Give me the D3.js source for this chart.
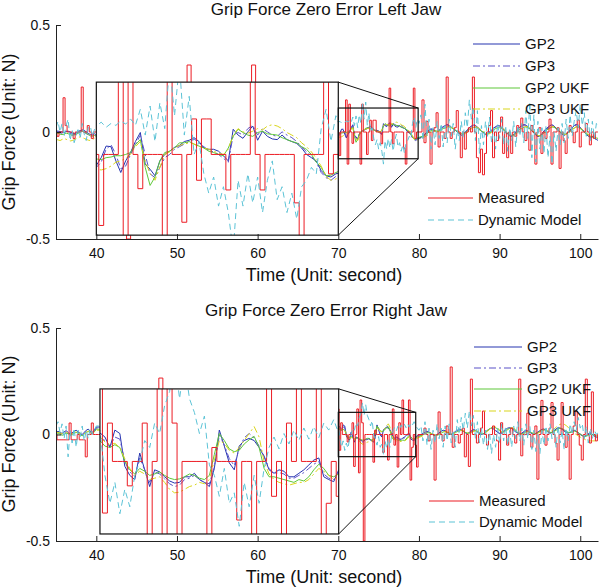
<!DOCTYPE html>
<html><head><meta charset="utf-8">
<script src="https://cdn.jsdelivr.net/npm/d3@7"></script>
<style>
body{margin:0;background:#fff}
svg{display:block}
text{font-family:"Liberation Sans",Arial,Helvetica,sans-serif;fill:#111}
</style>
</head><body>
<svg id="c" width="600" height="588"></svg>
<script>
// ---------------- DATA ----------------
const seriesNames = ["GP2", "GP3", "GP2 UKF", "GP3 UKF", "Measured", "Dynamic Model"];
const chartTitles = ["Grip Force Zero Error Left Jaw", "Grip Force Zero Error Right Jaw"];
const xLabel = "Time (Unit: second)";
const yLabel = "Grip Force (Unit: N)";
const xTicks = [40, 50, 60, 70, 80, 90, 100];
const yTicks = [-0.5, 0, 0.5];
const xDomain = [35, 102.2];
const yDomain = [-0.5, 0.5];

// sample times (seconds): 35–40, 40.5–69.5 (measured only), 70–80 (zoomed), 80.25–102.25
const timeA = d3.range(21).map(i => 35 + i * 0.25);
const timeH = d3.range(59).map(i => 40.5 + i * 0.5);
const timeB = d3.range(51).map(i => 70 + i * 0.2);
const timeC = d3.range(89).map(i => 80.25 + i * 0.25);

// ---- Left jaw ----
const leftMeasured = [
  // 35–40
  0,-0.02,0,0,0.16,0.03,0,0,0,-0.03,0,0,0,0.21,0,0,0.03,0,-0.03,0,0,
  // 40.5–69.5
  0,0,0,0,0,0,0,-0.5,0,0, 0,0,0,0,0,0,0,0,0,0, 0,0,0.313,0,0,0,0,0,0,0,
  0,0,0,0,0,0,0,0,0.313,0, 0,0,0,0,0,0,0,0,0,0, 0,0,0,0,0,0,0,0,0,
  // 70–80
  0,-0.11,0,0,0,0.15,-0.15,0.13,0,-0.053, 0,0,0,0,-0.15,0.13,0,0,-0.105,0,
  0.055,-0.04,0.055,0.055,0,0,0,-0.055,0,0, 0,0,0.205,0,-0.055,0,0,0,0,0,
  0,-0.075,-0.15,0,0,0,0,0.205,-0.03,0, 0,
  // 80.25–102.25
  0,0.15,-0.05,0.05,0,-0.15,0,0.02,0.09,-0.07, 0,0,-0.03,0.257,0,-0.03,0,0.02,0.1,0,
  -0.12,0,-0.08,0,0.02,0,0.257,0,-0.12,-0.19, -0.08,-0.2,-0.1,0,0.03,0.1,-0.12,0,-0.04,0,
  0.07,-0.1,0,-0.12,0,-0.1,0,-0.02,0.03,0, 0.065,0,-0.04,0,-0.085,0.03,0,-0.15,0,0.02,
  -0.1,0,-0.03,0,0.06,-0.15,0,0,0.02,-0.17, 0,-0.04,-0.1,0,0.03,0,-0.05,0,0.056,-0.07,
  0,0,0.04,0,-0.06,0,-0.03,0,0
];
const leftDynamic = [
  0.02,0.05,0.0,0.04,-0.02,0.03,0.06,-0.04,0.01,-0.05,-0.02,0.02,-0.03,0.04,-0.01,-0.04,0.02,0.03,-0.02,0.01,0.03,
  0.044,0.05,0.042,0.048,0.045,0.052,0.047,0.055,0.045,0.07, 0.03,0.075,0.02,0.08,0.04,0.14,0.06,0.14,0.03,0.09,
  0.0,0.02,-0.03,-0.06,-0.035,-0.08,-0.05,-0.09,-0.15,-0.04, -0.08,-0.03,-0.075,-0.035,-0.09,-0.04,-0.01,-0.07,-0.05,-0.09,
  -0.06,-0.1,-0.05,-0.04,-0.02,-0.03,0.04,0.07,0.02,0.06, 0.04,
  0.08,-0.04,0.13,-0.02,0.06,-0.08,0.02,-0.06,0.05,-0.03, 0.04,-0.07,0.03,-0.05,0.06,-0.02,0.04,-0.08,0.01,-0.04,
  0.05,-0.03,0.09,0.02,0.15,0.06,0.12,-0.04,0.1,-0.1, 0.03,-0.06,0.05,-0.02,0.07,-0.05,0.02,-0.08,0.04,-0.03,
  0.06,-0.06,0.03,-0.09,0.02,-0.04,0.05,-0.07,0.03,-0.02, 0.04,-0.05,0.1,-0.03,0.14,-0.12,0.08,-0.14,0.05,-0.08,
  0.02,-0.1,0.03,-0.12,-0.02,-0.15,0.0,-0.09,0.02,-0.06, 0.04,-0.05,0.06,-0.03,0.08,-0.02,0.05,0.1,0.02,0.13,
  0.03,0.09,-0.02,0.06,-0.04,0.05,-0.03,0.04,0.02
];
const leftGP2 = [
  0.005,0.004,0.002,0.0,-0.003,0.002,0.004,0.0,-0.005,-0.008,-0.004,0.0,0.006,0.01,0.008,0.0,-0.006,-0.012,-0.015,-0.008,-0.017,
  -0.017,-0.005,0.013,0.012,-0.01,-0.028,-0.01,0.003,0.02,0.034, -0.015,-0.023,-0.033,-0.01,0.0,0.005,0.011,0.014,0.02,0.022,
  0.026,0.02,0.01,0.008,0.008,0.005,-0.002,-0.01,0.039,0.03, 0.025,0.035,0.044,0.022,0.036,0.028,0.024,0.023,0.03,0.023,
  0.02,0.017,0.01,0.0,-0.005,-0.01,-0.025,-0.033,-0.035,-0.03, -0.028,
  -0.025,-0.02,-0.01,0.0,0.01,0.015,0.012,0.005,0.0,0.008, 0.018,0.025,0.03,0.035,0.03,0.022,0.015,0.008,0.0,-0.008,
  -0.015,-0.01,0.0,0.01,0.02,0.028,0.032,0.03,0.022,0.012, 0.005,-0.005,-0.012,-0.008,0.0,0.01,0.018,0.025,0.03,0.028,
  0.02,0.01,0.0,-0.01,-0.018,-0.02,-0.012,0.0,0.012,0.022, 0.03,0.035,0.032,0.025,0.015,0.005,-0.005,-0.015,-0.022,-0.018,
  -0.008,0.005,0.015,0.022,0.03,0.034,0.028,0.018,0.008,-0.002, -0.01,-0.015,-0.01,0.0,0.01,0.02,0.03,0.036,0.03,0.02,
  0.01,0.0,-0.01,-0.02,-0.025,-0.02,-0.03,-0.035,-0.04
];
const leftGP3 = [
  0.0,0.002,-0.004,-0.006,-0.002,0.004,0.0,-0.006,-0.01,-0.012,-0.006,0.002,0.008,0.004,0.0,-0.008,-0.012,-0.016,-0.01,-0.012,-0.02,
  -0.02,-0.012,0.008,0.015,0.0,-0.022,-0.018,0.0,0.015,0.03, 0.0,-0.03,-0.036,-0.02,-0.005,0.0,0.008,0.012,0.016,0.02,
  0.024,0.018,0.012,0.006,0.004,0.0,-0.006,-0.012,0.03,0.034, 0.03,0.04,0.045,0.03,0.04,0.035,0.03,0.028,0.035,0.03,
  0.026,0.02,0.012,0.004,-0.002,-0.012,-0.028,-0.036,-0.04,-0.034, -0.03,
  -0.03,-0.024,-0.015,-0.004,0.006,0.012,0.01,0.004,-0.002,0.004, 0.014,0.022,0.028,0.032,0.03,0.024,0.016,0.01,0.002,-0.006,
  -0.012,-0.012,-0.004,0.006,0.016,0.024,0.03,0.03,0.024,0.014, 0.006,-0.002,-0.01,-0.01,-0.004,0.006,0.014,0.022,0.028,0.028,
  0.022,0.012,0.002,-0.008,-0.016,-0.02,-0.014,-0.004,0.008,0.018, 0.026,0.032,0.032,0.026,0.018,0.008,-0.002,-0.012,-0.02,-0.02,
  -0.012,0.0,0.01,0.018,0.026,0.03,0.028,0.02,0.01,0.0, -0.008,-0.014,-0.012,-0.004,0.006,0.016,0.026,0.032,0.03,0.022,
  0.012,0.002,-0.008,-0.018,-0.024,-0.022,-0.028,-0.034,-0.038
];
const leftGP2UKF = [
  -0.008,-0.006,-0.01,-0.012,-0.01,-0.005,-0.008,-0.012,-0.016,-0.014,-0.01,-0.006,0.0,0.004,0.0,-0.006,-0.012,-0.018,-0.02,-0.016,-0.02,
  -0.007,-0.008,-0.005,-0.004,-0.002,-0.002,0.0,0.003,0.015,0.023, -0.02,-0.048,-0.035,-0.01,0.003,0.005,0.01,0.018,0.018,0.02,
  0.016,0.013,0.01,0.005,0.003,0.0,-0.002,0.01,0.028,0.039, 0.034,0.03,0.028,0.034,0.036,0.032,0.031,0.03,0.026,0.023,
  0.02,0.018,0.012,0.008,0.0,-0.012,-0.02,-0.033,-0.032,-0.028, -0.025,
  -0.022,-0.02,-0.015,-0.008,0.0,0.006,0.008,0.006,0.004,0.006, 0.01,0.016,0.02,0.024,0.024,0.02,0.014,0.008,0.002,-0.004,
  -0.008,-0.008,-0.004,0.004,0.012,0.018,0.022,0.022,0.018,0.01, 0.004,-0.002,-0.008,-0.01,-0.006,0.002,0.01,0.016,0.02,0.02,
  0.016,0.01,0.002,-0.006,-0.012,-0.016,-0.014,-0.006,0.004,0.012, 0.018,0.022,0.024,0.02,0.014,0.006,-0.002,-0.01,-0.016,-0.018,
  -0.012,-0.004,0.006,0.014,0.02,0.024,0.022,0.016,0.008,0.0, -0.006,-0.01,-0.01,-0.004,0.004,0.012,0.018,0.024,0.022,0.016,
  0.008,0.0,-0.008,-0.014,-0.02,-0.024,-0.026,-0.028,-0.03
];
const leftGP3UKF = [
  -0.035,-0.037,-0.04,-0.035,-0.03,-0.034,-0.038,-0.042,-0.04,-0.036,-0.032,-0.026,-0.022,-0.026,-0.03,-0.034,-0.038,-0.04,-0.036,-0.03,-0.025,
  -0.023,-0.024,-0.022,-0.018,-0.012,-0.01,-0.006,0.0,0.012,0.02, -0.01,-0.03,-0.04,-0.02,0.0,0.004,0.01,0.014,0.016,0.018,
  0.016,0.012,0.01,0.008,0.005,0.002,0.0,0.008,0.03,0.04, 0.035,0.033,0.036,0.04,0.038,0.044,0.046,0.044,0.04,0.034,
  0.03,0.026,0.018,0.012,0.004,-0.006,-0.018,-0.034,-0.04,-0.038, -0.034,
  -0.028,-0.026,-0.022,-0.016,-0.008,0.0,0.004,0.004,0.002,0.002, 0.006,0.012,0.018,0.022,0.024,0.022,0.018,0.012,0.006,0.0,
  -0.006,-0.01,-0.008,-0.002,0.006,0.014,0.02,0.024,0.022,0.016, 0.008,0.002,-0.004,-0.008,-0.008,-0.002,0.006,0.014,0.02,0.022,
  0.02,0.014,0.006,-0.002,-0.01,-0.016,-0.018,-0.012,-0.002,0.008, 0.016,0.022,0.026,0.024,0.018,0.01,0.002,-0.008,-0.016,-0.02,
  -0.018,-0.01,0.0,0.01,0.018,0.024,0.026,0.022,0.014,0.004, -0.004,-0.01,-0.012,-0.008,0.0,0.01,0.018,0.024,0.026,0.02,
  0.012,0.004,-0.004,-0.012,-0.018,-0.024,-0.028,-0.03,-0.034
];

// ---- Right jaw ----
const rightMeasured = [
  0,-0.025,-0.025,-0.025,-0.025,-0.025,-0.025,0.054,-0.025,-0.025,-0.025,0,-0.025,-0.025,-0.025,-0.105,0,0,0.054,0,0,
  0,0,0,0,0,0,0,0,0,0, 0,0,0,0,0,0.265,0,0,0,0, 0,0,0,0,0,0,0,0,0,0,
  0,0,0,0,0,0,0,0,0,0, 0,0,0,0,0,0,0,0,0,0, 0,0,0,0,0,0,0,0,0,
  0.12,-0.074,0.055,0,0,0,-0.035,0,0,0.055, -0.15,0,0.12,-0.18,0.162,0.055,-0.5,0,0,0,
  0,0,-0.13,0.02,0,0,0,0,-0.084,0, 0,-0.12,0,0,0.12,-0.05,0,-0.153,0.055,0,
  0.162,0,0,0,0.162,-0.214,-0.06,0,-0.05,-0.153, 0,
  0,0,0.03,0,-0.03,0,0,-0.214,0,0.106, 0,-0.03,0,0.04,0,0.317,-0.06,0,0,-0.04,
  0,0.03,-0.105,0,-0.15,0.26,0,0,-0.04,0, 0.03,0.11,0,-0.05,0,0,0.04,0,-0.03,-0.12,
  0.055,0,0,-0.05,0,0.03,0,-0.04,0,0.26, -0.1,0,0,0.1,0,-0.06,0,0.04,-0.21,0,
  0.16,0,-0.05,0,0.03,0.15,0,-0.04,-0.12,0, 0.15,0,-0.06,0,-0.21,0,0.04,0.11,0,-0.05,
  -0.12,0,0.26,0,-0.04,0.2,0,-0.03,0
];
const rightDynamic = [
  0.04,0.06,0.01,0.05,-0.02,0.04,-0.105,0.02,-0.04,0.03,-0.06,0.02,-0.01,0.04,-0.03,0.02,-0.02,0.03,0.0,0.02,0.04,
  0.045,-0.02,-0.06,-0.03,-0.075,-0.04,-0.065,-0.02,0.0,0.03, 0.02,0.055,0.04,0.08,0.1,0.15,0.09,0.14,0.09,0.07,
  0.04,0.065,-0.005,-0.02,-0.05,-0.01,-0.06,-0.045,-0.093,-0.03, -0.065,-0.02,-0.06,-0.01,0.02,0.035,0.018,0.04,0.025,0.045,
  0.03,0.048,0.032,0.05,0.034,0.055,0.045,0.06,0.04,0.03, 0.02,
  0.04,-0.03,0.06,-0.05,0.03,-0.07,0.02,-0.04,0.05,-0.02, 0.03,-0.06,0.04,-0.03,0.05,-0.04,0.02,-0.06,0.07,0.0,
  0.08,0.02,0.1,0.03,0.11,0.04,0.09,-0.02,0.06,-0.04, 0.03,-0.05,0.02,-0.07,0.01,-0.09,0.0,-0.06,0.03,-0.04,
  0.05,-0.03,0.04,-0.05,0.02,-0.06,0.04,-0.02,0.06,-0.03, 0.03,-0.05,0.05,-0.02,0.04,-0.07,0.02,-0.08,0.0,-0.09,
  0.02,-0.05,0.04,-0.03,0.05,-0.02,0.03,-0.06,0.04,-0.04, 0.02,-0.07,0.03,-0.03,0.05,0.0,0.06,0.02,0.08,0.03,
  0.05,-0.02,0.04,-0.04,0.03,-0.02,0.02,0.0,0.01
];
const rightGP2 = [
  0.01,0.015,0.01,0.005,0.012,0.018,0.01,0.0,0.008,0.015,0.02,0.012,0.005,0.0,0.01,0.02,0.025,0.015,0.01,0.02,0.035,
  0.041,0.035,0.02,0.045,0.04,-0.007,-0.02,-0.026,0.012,-0.012, -0.036,-0.012,-0.015,-0.022,-0.028,-0.031,-0.03,-0.022,-0.022,-0.017,
  -0.026,-0.03,-0.036,-0.01,0.045,0.022,-0.002,-0.012,0.022,0.03, 0.033,0.03,0.02,0.007,-0.012,-0.017,-0.012,-0.014,-0.022,-0.022,
  -0.017,-0.012,-0.005,0.002,0.005,-0.022,-0.026,-0.029,-0.012,-0.005, 0.0,
  0.0,0.005,0.01,0.015,0.012,0.006,0.0,-0.005,0.0,0.008, 0.015,0.02,0.018,0.01,0.004,0.0,0.006,0.014,0.02,0.025,
  0.022,0.015,0.008,0.004,0.01,0.018,0.024,0.02,0.012,0.005, 0.0,0.004,0.012,0.02,0.026,0.03,0.026,0.018,0.01,0.004,
  0.008,0.016,0.024,0.03,0.032,0.028,0.02,0.012,0.006,0.002, 0.006,0.014,0.02,0.016,0.01,0.004,0.0,0.005,0.012,0.018,
  0.024,0.026,0.02,0.012,0.006,0.01,0.018,0.026,0.032,0.03, 0.024,0.016,0.01,0.006,0.01,0.016,0.02,0.015,0.008,0.0,
  -0.006,-0.01,-0.004,0.004,0.008,0.0,-0.008,-0.012,-0.016
];
const rightGP3 = [
  0.005,0.01,0.006,0.0,0.006,0.012,0.008,-0.002,0.004,0.01,0.015,0.01,0.002,-0.004,0.006,0.015,0.02,0.012,0.006,0.015,0.03,
  0.035,0.03,0.022,0.035,0.032,0.0,-0.015,-0.022,0.005,-0.012, -0.03,-0.015,-0.018,-0.025,-0.032,-0.036,-0.034,-0.026,-0.024,-0.02,
  -0.026,-0.03,-0.032,-0.008,0.038,0.024,0.004,-0.006,0.018,0.034, 0.04,0.034,0.022,0.008,-0.01,-0.018,-0.016,-0.018,-0.024,-0.024,
  -0.02,-0.016,-0.01,-0.004,0.0,-0.018,-0.024,-0.026,-0.014,-0.008, -0.004,
  -0.004,0.002,0.008,0.012,0.01,0.004,-0.002,-0.006,-0.002,0.004, 0.012,0.018,0.016,0.01,0.004,0.0,0.004,0.01,0.016,0.022,
  0.02,0.014,0.008,0.004,0.008,0.014,0.02,0.018,0.012,0.006, 0.0,0.002,0.01,0.018,0.024,0.028,0.026,0.02,0.012,0.006,
  0.006,0.014,0.022,0.028,0.03,0.028,0.022,0.014,0.008,0.004, 0.004,0.01,0.016,0.016,0.012,0.006,0.002,0.004,0.01,0.016,
  0.022,0.024,0.02,0.014,0.008,0.01,0.016,0.024,0.03,0.03, 0.026,0.018,0.012,0.008,0.01,0.014,0.018,0.014,0.008,0.002,
  -0.004,-0.008,-0.006,0.0,0.004,0.0,-0.006,-0.01,-0.014
];
const rightGP2UKF = [
  0.0,0.004,0.002,-0.004,0.0,0.006,0.004,-0.004,0.0,0.006,0.01,0.006,0.0,-0.006,0.002,0.01,0.014,0.008,0.004,0.012,0.025,
  0.03,0.022,0.02,0.024,0.02,0.0,-0.012,-0.018,-0.01,-0.014, -0.02,-0.018,-0.015,-0.02,-0.024,-0.026,-0.025,-0.022,-0.018,-0.02,
  -0.024,-0.026,-0.02,0.01,0.04,0.03,0.018,0.014,0.016,0.025, 0.031,0.036,0.02,-0.01,-0.022,-0.022,-0.024,-0.026,-0.028,-0.03,
  -0.026,-0.028,-0.022,-0.012,-0.004,-0.01,-0.02,-0.022,-0.018,-0.012, -0.01,
  -0.006,-0.002,0.004,0.008,0.008,0.004,0.0,-0.004,-0.004,0.0, 0.006,0.012,0.014,0.01,0.006,0.002,0.004,0.008,0.014,0.018,
  0.02,0.016,0.01,0.006,0.006,0.01,0.016,0.018,0.014,0.008, 0.004,0.004,0.01,0.018,0.026,0.032,0.034,0.032,0.026,0.018,
  0.012,0.012,0.018,0.024,0.028,0.03,0.026,0.018,0.01,0.004, 0.002,0.006,0.012,0.014,0.012,0.008,0.004,0.004,0.008,0.014,
  0.02,0.022,0.02,0.016,0.01,0.01,0.014,0.02,0.026,0.03, 0.028,0.022,0.016,0.01,0.01,0.012,0.016,0.014,0.008,0.002,
  -0.004,-0.008,-0.008,-0.004,0.0,0.0,-0.004,-0.006,-0.008
];
const rightGP3UKF = [
  0.008,0.01,0.008,0.004,0.006,0.01,0.01,0.002,0.004,0.008,0.012,0.01,0.004,0.0,0.004,0.01,0.016,0.012,0.008,0.012,0.02,
  0.035,0.028,0.024,0.026,0.02,0.004,-0.01,-0.02,-0.014,-0.018, -0.026,-0.024,-0.022,-0.03,-0.04,-0.045,-0.044,-0.04,-0.036,-0.034,
  -0.03,-0.032,-0.026,0.002,0.03,0.026,0.016,0.012,0.02,0.03, 0.04,0.05,0.035,0.0,-0.018,-0.026,-0.03,-0.032,-0.034,-0.032,
  -0.03,-0.03,-0.026,-0.018,-0.01,-0.014,-0.02,-0.026,-0.022,-0.018, -0.014,
  -0.01,-0.006,0.0,0.006,0.008,0.006,0.002,-0.002,-0.004,-0.002, 0.004,0.01,0.014,0.012,0.008,0.004,0.004,0.008,0.012,0.016,
  0.02,0.018,0.012,0.008,0.006,0.008,0.014,0.018,0.016,0.01, 0.006,0.004,0.008,0.016,0.024,0.032,0.036,0.036,0.03,0.022,
  0.014,0.012,0.016,0.022,0.028,0.032,0.03,0.022,0.014,0.006, 0.002,0.004,0.01,0.014,0.014,0.01,0.006,0.004,0.006,0.012,
  0.02,0.02,0.018,0.016,0.014,0.018,0.026,0.034,0.042,0.048, 0.05,0.048,0.042,0.034,0.024,0.014,0.006,0.0,-0.006,-0.012,
  -0.018,-0.022,-0.026,-0.028,-0.03,-0.03,-0.03,-0.03,-0.03
];

// ---------------- DRAWING ----------------
const timeMeasured = [...timeA, ...timeH, ...timeB, ...timeC];
const timeModel = [...timeA, ...timeB, ...timeC];

const styles = [
  {color: "#2634b0", dash: null},
  {color: "#5a52c8", dash: "7,3,2,3"},
  {color: "#5ec83a", dash: null},
  {color: "#d9d51c", dash: "7,3,2,3"},
  {color: "#ec1c24", dash: null},
  {color: "#5cc3d6", dash: "6,4"}
];

const charts = [
  {
    title: chartTitles[0],
    values: [leftGP2, leftGP3, leftGP2UKF, leftGP3UKF, leftMeasured, leftDynamic],
    plotTop: 25, plotBottom: 239, titleY: 15, xLabelY: 281, yLabelY: 132,
    inset: {x: [40, 70], y: [-0.482, 0.233]},
    zoom: {x: [70, 79.9], y: [-0.125, 0.112]},
    legendY: [44, 66, 88, 109, 198, 220],
    legendUpper: [473, 520], legendLower: [428, 473]
  },
  {
    title: chartTitles[1],
    values: [rightGP2, rightGP3, rightGP2UKF, rightGP3UKF, rightMeasured, rightDynamic],
    plotTop: 328, plotBottom: 541, titleY: 316, xLabelY: 583, yLabelY: 434,
    inset: {x: [40.45, 70.05], y: [-0.467, 0.214]},
    zoom: {x: [70, 79.6], y: [-0.104, 0.104]},
    legendY: [347, 368, 389, 411, 501, 522],
    legendUpper: [474, 522], legendLower: [429, 474]
  }
];

const svg = d3.select("#c");
const defs = svg.append("defs");
const PL = 56, PR = 598;

function drawSeries(g, x, y, values) {
  values.forEach((vals, i) => {
    const times = i === 4 ? timeMeasured : timeModel;
    if (times.length !== vals.length) throw new Error("length mismatch " + seriesNames[i] + " " + vals.length + " vs " + times.length);
    const pts = times.map((t, j) => [t, vals[j]]);
    const line = d3.line().x(d => x(d[0])).y(d => y(d[1]))
      .curve(i === 4 ? d3.curveStep : d3.curveLinear);
    g.append("path").attr("d", line(pts))
      .attr("fill", "none").attr("stroke", styles[i].color)
      .attr("stroke-width", 1)
      .attr("stroke-dasharray", styles[i].dash);
  });
}

charts.forEach((cfg, ci) => {
  const x = d3.scaleLinear().domain(xDomain).range([PL, PR]);
  const y = d3.scaleLinear().domain(yDomain).range([cfg.plotBottom, cfg.plotTop]);
  const g = svg.append("g");

  defs.append("clipPath").attr("id", "main" + ci).append("rect")
    .attr("x", PL).attr("y", cfg.plotTop).attr("width", PR - PL).attr("height", cfg.plotBottom - cfg.plotTop);
  const mainG = g.append("g").attr("clip-path", `url(#main${ci})`);
  drawSeries(mainG, x, y, cfg.values);

  // inset
  const ix0 = x(cfg.inset.x[0]), ix1 = x(cfg.inset.x[1]);
  const iyT = y(cfg.inset.y[1]), iyB = y(cfg.inset.y[0]);
  g.append("rect").attr("x", ix0).attr("y", iyT).attr("width", ix1 - ix0).attr("height", iyB - iyT).attr("fill", "#fff");
  defs.append("clipPath").attr("id", "inset" + ci).append("rect")
    .attr("x", ix0).attr("y", iyT).attr("width", ix1 - ix0).attr("height", iyB - iyT);
  const xi = d3.scaleLinear().domain(cfg.zoom.x).range([ix0, ix1]);
  const yi = d3.scaleLinear().domain(cfg.zoom.y).range([iyB, iyT]);
  const insetG = g.append("g").attr("clip-path", `url(#inset${ci})`);
  drawSeries(insetG, xi, yi, cfg.values);
  g.append("rect").attr("x", ix0).attr("y", iyT).attr("width", ix1 - ix0).attr("height", iyB - iyT)
    .attr("fill", "none").attr("stroke", "#111").attr("stroke-width", 1.2);

  // zoom rectangle and connectors
  const zx0 = x(cfg.zoom.x[0]), zx1 = x(cfg.zoom.x[1]);
  const zyT = y(cfg.zoom.y[1]), zyB = y(cfg.zoom.y[0]);
  g.append("rect").attr("x", zx0).attr("y", zyT).attr("width", zx1 - zx0).attr("height", zyB - zyT)
    .attr("fill", "none").attr("stroke", "#111").attr("stroke-width", 1.2);
  g.append("line").attr("x1", ix1).attr("y1", iyT).attr("x2", zx1).attr("y2", zyT).attr("stroke", "#111");
  g.append("line").attr("x1", ix1).attr("y1", iyB).attr("x2", zx1).attr("y2", zyB).attr("stroke", "#111");

  // axes
  const xAxis = d3.axisBottom(x).tickValues(xTicks).tickSizeInner(-5).tickSizeOuter(0).tickPadding(9).tickFormat(d => String(d));
  const yAxis = d3.axisLeft(y).tickValues(yTicks).tickSizeInner(-5).tickSizeOuter(0).tickPadding(6).tickFormat(d => String(d));
  const gx = g.append("g").attr("transform", `translate(0,${cfg.plotBottom})`).call(xAxis);
  const gy = g.append("g").attr("transform", `translate(${PL},0)`).call(yAxis);
  [gx, gy].forEach(a => {
    a.select(".domain").attr("stroke", "#222");
    a.selectAll(".tick line").attr("stroke", "#222");
    a.selectAll("text").attr("font-size", 14).attr("fill", "#111")
      .attr("font-family", '"Liberation Sans",Arial,sans-serif');
  });

  // titles
  g.append("text").attr("x", 326).attr("y", cfg.titleY).attr("text-anchor", "middle")
    .attr("font-size", 17).text(cfg.title);
  g.append("text").attr("x", 324).attr("y", cfg.xLabelY).attr("text-anchor", "middle")
    .attr("font-size", 18).text(xLabel);
  g.append("text").attr("transform", `translate(15,${cfg.yLabelY}) rotate(-90)`).attr("text-anchor", "middle")
    .attr("font-size", 18).text(yLabel);

  // legend
  seriesNames.forEach((name, i) => {
    const span = i < 4 ? cfg.legendUpper : cfg.legendLower;
    const ly = cfg.legendY[i];
    g.append("line").attr("x1", span[0]).attr("x2", span[1]).attr("y1", ly).attr("y2", ly)
      .attr("stroke", styles[i].color).attr("stroke-width", 1.2).attr("stroke-dasharray", styles[i].dash);
    g.append("text").attr("x", span[1] + 5).attr("y", ly).attr("dy", "0.35em")
      .attr("font-size", 15).text(name);
  });
});
</script>
</body></html>
